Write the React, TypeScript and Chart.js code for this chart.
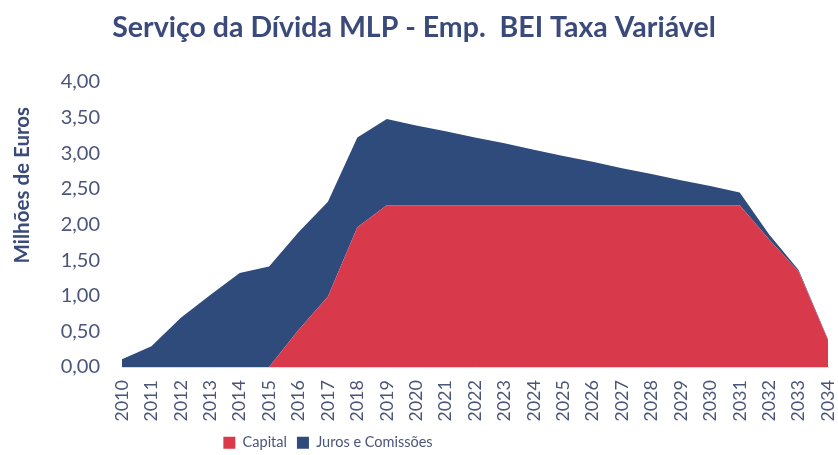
import React, { useEffect, useRef } from "react";
import { Chart, registerables } from "chart.js";

Chart.register(...registerables);

const years = [
  "2010", "2011", "2012", "2013", "2014", "2015", "2016", "2017", "2018", "2019",
  "2020", "2021", "2022", "2023", "2024", "2025", "2026", "2027", "2028", "2029",
  "2030", "2031", "2032", "2033", "2034",
];

const capital = [
  0, 0, 0, 0, 0, 0, 0.52, 0.99, 1.96, 2.27,
  2.27, 2.27, 2.27, 2.27, 2.27, 2.27, 2.27, 2.27, 2.27, 2.27,
  2.27, 2.27, 1.79, 1.34, 0.38,
];

const juros = [
  0.11, 0.29, 0.69, 1.01, 1.32, 1.41, 1.37, 1.33, 1.26, 1.21,
  1.12, 1.04, 0.95, 0.87, 0.78, 0.69, 0.61, 0.52, 0.44, 0.35,
  0.27, 0.18, 0.07, 0.02, 0.01,
];

const yTicks = [0, 0.5, 1, 1.5, 2, 2.5, 3, 3.5, 4];

const TEXT = "#4B5679";
const NAVY = "#2F4B7C";
const RED = "#D83A4B";

const CANVAS_H = 455;
const PLOT_BOTTOM = 367;

export default function App() {
  const ref = useRef<HTMLCanvasElement | null>(null);

  useEffect(() => {
    document.body.style.margin = "0";
    const canvas = ref.current;
    if (!canvas) return;

    const shiftLegend = {
      id: "shiftLegend",
      afterLayout(chart: any) {
        const l = chart.legend;
        if (l) {
          l.left -= 86;
          l.right -= 86;
          l.top += 5;
          l.bottom += 5;
        }
      },
    };

    const chart = new Chart(canvas, {
      type: "line",
      data: {
        labels: years,
        datasets: [
          {
            label: "Capital",
            data: capital,
            backgroundColor: RED,
            borderColor: RED,
            borderWidth: 0,
            pointRadius: 0,
            fill: "origin",
            tension: 0,
          },
          {
            label: "Juros e Comissões",
            data: juros,
            backgroundColor: NAVY,
            borderColor: NAVY,
            borderWidth: 0,
            pointRadius: 0,
            fill: "-1",
            tension: 0,
          },
        ],
      },
      options: {
        responsive: false,
        animation: false,
        devicePixelRatio: 1,
        layout: { padding: { left: 0, right: 10, top: 0, bottom: 0 } },
        plugins: {
          title: {
            display: true,
            text: "Serviço da Dívida MLP - Emp.  BEI Taxa Variável",
            color: "#3A4A7A",
            font: { family: "Lato", size: 28.5, weight: "bold" },
            padding: { top: 11, bottom: 36.8 },
          },
          legend: {
            position: "bottom",
            labels: {
              color: TEXT,
              font: { family: "Lato", size: 14.5 },
              boxWidth: 12,
              boxHeight: 12,
              padding: 10,
            },
          },
          tooltip: { enabled: false },
        },
        scales: {
          x: {
            grid: { display: false, drawTicks: false },
            border: { display: true, color: "#D9D9D9" },
            ticks: {
              color: TEXT,
              font: { family: "Lato", size: 18 },
              maxRotation: 90,
              minRotation: 90,
              autoSkip: false,
              padding: 13,
            },
            afterFit(scale: any) {
              const lh = scale.chart.legend ? scale.chart.legend.height : 0;
              scale.height = CANVAS_H - lh - PLOT_BOTTOM;
              scale.paddingLeft = 0;
              scale.paddingRight = 0;
            },
          },
          y: {
            stacked: true,
            min: 0,
            max: 4,
            grid: { display: false, drawTicks: false },
            border: { display: false },
            afterBuildTicks(scale: any) {
              scale.ticks = yTicks.map((v) => ({ value: v }));
            },
            ticks: {
              color: TEXT,
              font: { family: "Lato", size: 20 },
              padding: 22,
              callback: (v: any) => Number(v).toFixed(2).replace(".", ","),
            },
            title: {
              display: true,
              text: "Milhões de Euros     ",
              align: "end",
              color: "#3A4A7A",
              font: { family: "Lato", size: 20.5, weight: "bold" },
              padding: { top: 10, bottom: 0 },
            },
            afterFit(scale: any) {
              scale.width = 122;
            },
          },
        },
      },
      plugins: [shiftLegend],
    });

    return () => chart.destroy();
  }, []);

  return (
    <div style={{ position: "absolute", left: 0, top: 0, width: 838, height: 455, background: "#fff" }}>
      <canvas ref={ref} width={838} height={455} />
    </div>
  );
}
